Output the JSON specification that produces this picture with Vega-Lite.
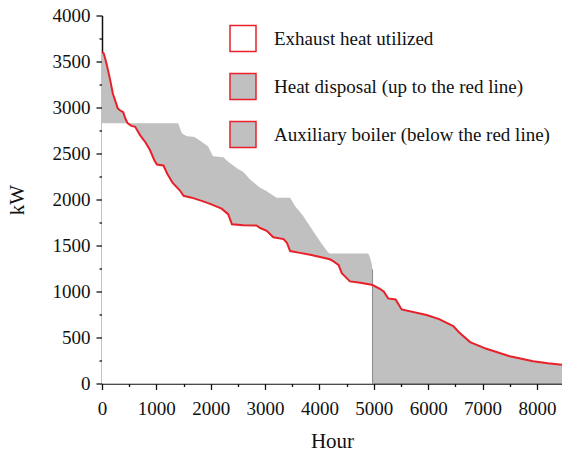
{
  "$schema": "https://vega.github.io/schema/vega-lite/v6.json",
  "width": 460,
  "height": 368,
  "autosize": {"type": "none"},
  "padding": {"left": 102, "top": 15.5, "right": 0, "bottom": 69.5},
  "background": "white",
  "config": {
    "view": {"stroke": null},
    "font": "Liberation Serif",
    "axis": {
      "labelFont": "Liberation Serif",
      "titleFont": "Liberation Serif",
      "labelFontSize": 19,
      "titleFontSize": 21,
      "titleFontWeight": "normal",
      "labelColor": "#111",
      "titleColor": "#111",
      "domainColor": "#111",
      "tickColor": "#111",
      "domainWidth": 1.5,
      "tickWidth": 1.3,
      "grid": false
    },
    "legend": {
      "labelFont": "Liberation Serif",
      "labelFontSize": 19,
      "labelColor": "#111",
      "labelLimit": 400
    }
  },
  "datasets": {
    "red": [
      {"hour": 0, "kW": 3600}, {"hour": 30, "kW": 3590}, {"hour": 60, "kW": 3530},
      {"hour": 90, "kW": 3460}, {"hour": 150, "kW": 3300}, {"hour": 200, "kW": 3150},
      {"hour": 240, "kW": 3080}, {"hour": 290, "kW": 2990}, {"hour": 330, "kW": 2970},
      {"hour": 390, "kW": 2950}, {"hour": 430, "kW": 2880}, {"hour": 470, "kW": 2830},
      {"hour": 540, "kW": 2800}, {"hour": 610, "kW": 2790}, {"hour": 700, "kW": 2700},
      {"hour": 800, "kW": 2620}, {"hour": 880, "kW": 2540}, {"hour": 960, "kW": 2430},
      {"hour": 1010, "kW": 2380}, {"hour": 1130, "kW": 2370}, {"hour": 1200, "kW": 2280},
      {"hour": 1300, "kW": 2180}, {"hour": 1430, "kW": 2100}, {"hour": 1500, "kW": 2040},
      {"hour": 1650, "kW": 2020}, {"hour": 1860, "kW": 1980}, {"hour": 2000, "kW": 1950},
      {"hour": 2200, "kW": 1900}, {"hour": 2320, "kW": 1840}, {"hour": 2390, "kW": 1730},
      {"hour": 2600, "kW": 1720}, {"hour": 2840, "kW": 1717}, {"hour": 2910, "kW": 1690},
      {"hour": 3030, "kW": 1660}, {"hour": 3150, "kW": 1590}, {"hour": 3340, "kW": 1570},
      {"hour": 3400, "kW": 1530}, {"hour": 3460, "kW": 1440}, {"hour": 3640, "kW": 1420},
      {"hour": 3830, "kW": 1400}, {"hour": 4190, "kW": 1350}, {"hour": 4250, "kW": 1330},
      {"hour": 4350, "kW": 1290}, {"hour": 4410, "kW": 1200}, {"hour": 4560, "kW": 1110},
      {"hour": 4750, "kW": 1095}, {"hour": 4930, "kW": 1076}, {"hour": 4976, "kW": 1070},
      {"hour": 5110, "kW": 1030}, {"hour": 5180, "kW": 1000}, {"hour": 5263, "kW": 925},
      {"hour": 5400, "kW": 913}, {"hour": 5510, "kW": 805}, {"hour": 5970, "kW": 745},
      {"hour": 6200, "kW": 700}, {"hour": 6460, "kW": 625}, {"hour": 6560, "kW": 560},
      {"hour": 6770, "kW": 450}, {"hour": 7070, "kW": 377}, {"hour": 7500, "kW": 297},
      {"hour": 7930, "kW": 242}, {"hour": 8200, "kW": 220}, {"hour": 8460, "kW": 205}
    ],
    "upper": [
      {"hour": 0, "kW": 2830}, {"hour": 1400, "kW": 2830}, {"hour": 1470, "kW": 2720},
      {"hour": 1550, "kW": 2690}, {"hour": 1700, "kW": 2680}, {"hour": 1750, "kW": 2660},
      {"hour": 1950, "kW": 2580}, {"hour": 2040, "kW": 2470}, {"hour": 2230, "kW": 2460},
      {"hour": 2300, "kW": 2420}, {"hour": 2480, "kW": 2340}, {"hour": 2600, "kW": 2300},
      {"hour": 2720, "kW": 2220}, {"hour": 2900, "kW": 2130}, {"hour": 3030, "kW": 2090},
      {"hour": 3210, "kW": 2020}, {"hour": 3460, "kW": 2020}, {"hour": 3550, "kW": 1930},
      {"hour": 3700, "kW": 1820}, {"hour": 3800, "kW": 1730}, {"hour": 3946, "kW": 1600},
      {"hour": 4050, "kW": 1510}, {"hour": 4160, "kW": 1425}, {"hour": 4190, "kW": 1413},
      {"hour": 4895, "kW": 1413}, {"hour": 4930, "kW": 1370}, {"hour": 4960, "kW": 1300},
      {"hour": 4976, "kW": 1240}, {"hour": 4976, "kW": 0}
    ],
    "divider": [{"hour": 4976, "low": 0, "high": 1240}]
  },
  "encoding": {
    "x": {
      "field": "hour", "type": "quantitative",
      "scale": {"domain": [0, 8460], "nice": false, "zero": false},
      "axis": {
        "title": "Hour",
        "values": [0, 500, 1000, 1500, 2000, 2500, 3000, 3500, 4000, 4500, 5000, 5500, 6000, 6500, 7000, 7500, 8000],
        "format": "d",
        "labelExpr": "datum.value % 1000 === 0 ? datum.label : ''",
        "tickSize": {"condition": {"test": "datum.value % 1000 === 0", "value": 6}, "value": 3},
        "labelPadding": 10,
        "titlePadding": 12,
        "labelFlush": false,
        "labelOverlap": false
      }
    },
    "y": {
      "field": "kW", "type": "quantitative",
      "scale": {"domain": [0, 4000], "nice": false},
      "axis": {
        "title": "kW",
        "values": [0, 250, 500, 750, 1000, 1250, 1500, 1750, 2000, 2250, 2500, 2750, 3000, 3250, 3500, 3750, 4000],
        "format": "d",
        "labelExpr": "datum.value % 500 === 0 ? datum.label : ''",
        "tickSize": {"condition": {"test": "datum.value % 500 === 0", "value": 6}, "value": 3},
        "labelPadding": 6,
        "titlePadding": 25,
        "labelOverlap": false
      }
    }
  },
  "layer": [
    {
      "data": {"name": "upper"},
      "mark": {"type": "area", "opacity": 1, "interpolate": "linear"},
      "encoding": {
        "color": {
          "datum": "Heat disposal (up to the red line)",
          "type": "nominal",
          "scale": {
            "domain": ["Exhaust heat utilized", "Heat disposal (up to the red line)", "Auxiliary boiler (below the red line)"],
            "range": ["#ffffff", "#c0c0c0", "#c0c0c0"]
          },
          "legend": {
            "title": null,
            "orient": "none",
            "legendX": 127,
            "legendY": 9,
            "padding": 0,
            "symbolType": "square",
            "symbolSize": 676,
            "symbolStrokeColor": "#e8202a",
            "symbolStrokeWidth": 1.5,
            "symbolOpacity": 1,
            "labelOffset": 17,
            "labelLimit": 400,
            "rowPadding": 16,
            "encode": {
              "symbols": {"update": {"stroke": {"value": "#e8202a"}, "strokeWidth": {"value": 1.5}, "opacity": {"value": 1}}}
            }
          }
        }
      }
    },
    {
      "data": {"name": "red"},
      "transform": [{"filter": "datum.hour <= 4976"}],
      "mark": {"type": "area", "opacity": 1},
      "encoding": {
        "color": {"datum": "Exhaust heat utilized", "type": "nominal"}
      }
    },
    {
      "data": {"name": "red"},
      "transform": [{"filter": "datum.hour <= 470"}],
      "mark": {"type": "area", "opacity": 1},
      "encoding": {
        "y2": {"datum": 2830},
        "color": {"datum": "Auxiliary boiler (below the red line)", "type": "nominal"}
      }
    },
    {
      "data": {"name": "red"},
      "transform": [{"filter": "datum.hour >= 4976"}],
      "mark": {"type": "area", "opacity": 1},
      "encoding": {
        "color": {"datum": "Auxiliary boiler (below the red line)", "type": "nominal"}
      }
    },
    {
      "data": {"name": "divider"},
      "mark": {"type": "rule", "color": "#8a8a8a", "strokeWidth": 1},
      "encoding": {
        "y": {"field": "low", "type": "quantitative"},
        "y2": {"field": "high"}
      }
    },
    {
      "data": {"name": "red"},
      "mark": {"type": "line", "color": "#e8202a", "strokeWidth": 2, "interpolate": "linear"},
      "encoding": {}
    }
  ]
}
